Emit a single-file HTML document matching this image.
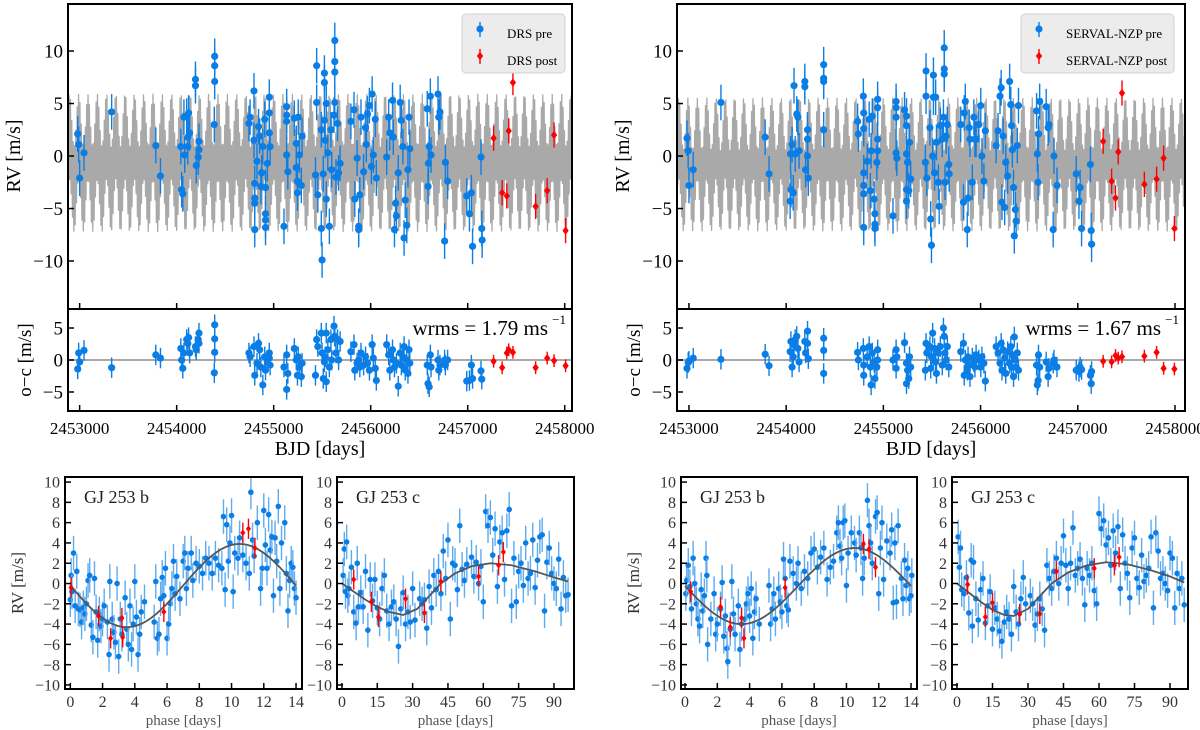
<!DOCTYPE html>
<html><head><meta charset="utf-8">
<style>
html,body{margin:0;padding:0;background:#fff;}
svg{display:block;font-family:"Liberation Serif",serif;}
</style></head>
<body>
<svg id="fig" width="1200" height="730" viewBox="0 0 1200 730" xmlns="http://www.w3.org/2000/svg"></svg>
<script>
// ===== DATA (BJD - 2450000, RV in m/s) =====
const drsPreT=[2980,2990,3000,3045,3330,3785,3833,4043,4051,4063,4075,4083,4103,4115,4123,4134,4115,4194,4194,4202,4230,4230,4222,4392,4392,4392,4388,4745,4757,4797,4797,4805,4805,4805,4805,4828,4844,4856,4868,4876,4888,4908,4916,4916,4916,4916,4935,4955,4955,4955,4963,5106,5134,5134,5134,5134,5146,5213,5233,5233,5245,5245,5253,5265,5285,5293,5443,5443,5431,5455,5491,5491,5499,5511,5523,5523,5523,5531,5542,5542,5558,5574,5590,5598,5622,5630,5630,5630,5630,5642,5658,5669,5685,5796,5828,5836,5860,5876,5876,5888,5900,5927,5947,5955,5967,5987,6007,6015,6027,6047,6058,6165,6185,6197,6225,6233,6245,6257,6265,6284,6304,6316,6332,6344,6356,6372,6384,6395,6403,6583,6591,6595,6603,6615,6622,6694,6702,6714,6762,6770,6793,6990,7018,7038,7050,7137,7145,7149];
const drsPreRV=[2.1,1.1,-2.1,0.3,4.2,1.0,-1.9,0.9,-3.2,-3.6,3.7,0.1,3.8,1.8,4.1,2.2,0.9,7.3,6.7,-0.9,1.4,0.6,-0.1,9.5,8.6,7.1,3.0,3.1,3.7,6.2,1.5,-2.6,-4.0,-4.5,-7.0,-0.5,2.8,1.9,-2.9,-1.6,0.9,3.5,-3.0,-5.5,-6.1,-6.8,-0.7,5.6,4.1,2.2,0.9,-6.7,4.7,3.9,3.3,0.1,-1.5,3.6,1.2,-1.1,-2.4,-3.5,3.7,0.1,-2.8,1.9,8.6,5.1,-1.8,-3.7,2.5,-6.9,-9.9,-1.7,7.0,7.9,3.4,1.5,5.0,-4.1,0.3,-6.7,2.5,-1.3,3.9,11.0,9.0,8.0,5.1,-2.0,3.1,-1.6,-0.7,3.3,4.4,-4.1,-0.2,-6.7,-7.0,-3.7,3.7,-1.5,2.7,1.1,4.0,4.8,-1.0,5.9,0.1,3.5,-2.1,-0.1,3.7,2.2,5.3,1.8,-7.0,-4.5,-5.7,-1.6,5.1,3.4,0.9,-7.8,-4.2,-6.6,-1.3,3.7,0.7,4.5,-2.9,-0.7,0.9,5.7,0.1,5.9,3.7,4.2,-8.1,-0.6,-2.4,-3.8,-5.5,-3.5,-8.6,-0.1,-6.9,-8.0];
const drsPostT=[7267,7355,7403,7423,7466,7700,7819,7890,8009];
const drsPostRV=[1.7,-3.5,-3.8,2.4,7.0,-4.8,-3.3,2.0,-7.1];
const drsResPreT=[2980,2990,3000,3045,3330,3785,3833,4043,4051,4063,4075,4103,4115,4123,4134,4194,4222,4230,4202,4230,4392,4392,4392,4388,4745,4757,4797,4805,4828,4844,4856,4868,4888,4908,4916,4935,4955,4963,4955,5106,5134,5134,5146,5213,5233,5245,5253,5265,5285,5293,5443,5431,5455,5491,5499,5511,5523,5531,5542,5542,5558,5574,5590,5598,5622,5630,5642,5658,5669,5685,5796,5828,5836,5860,5876,5888,5900,5927,5947,5967,5987,6015,6027,6047,6058,6165,6185,6197,6225,6233,6245,6265,6284,6304,6316,6332,6344,6356,6372,6384,6395,6403,6583,6591,6603,6615,6622,6694,6702,6714,6762,6770,6793,6990,7018,7038,7050,7137,7145];
const drsResPre=[-1.4,1.1,-0.3,1.5,-1.2,0.8,0.3,1.8,0,-1.3,1.1,3.2,2.6,3.5,1.1,2.1,3.2,4.2,1.6,2.6,5.5,3.3,1.2,-2.0,1.1,0.5,2.1,-2.4,-0.5,2.6,1.6,-1.1,-3.9,0.5,-1.6,-0.3,1.1,-0.8,0.3,-1.1,0.8,-4.6,-2.1,1.8,0,-2.4,0.5,-1.1,-2.6,-0.5,3.2,-2.4,2.1,4.2,1.1,-2.9,-0.3,0.5,4.2,-3.4,1.6,-1.1,3.2,0,5.3,3.7,1.1,3.2,0,2.9,1.3,2.4,-1.6,-0.5,0,-1.1,1.1,-0.8,0.5,-0.5,-1.6,2.4,0.3,-1.3,-3.2,2.4,0.8,-1.6,1.6,0,-1.1,-0.5,-4.1,1.1,-0.8,0.5,2.1,-1.6,0,-2.1,1.6,-0.5,-0.8,-3.7,-4.2,0.8,-1.1,0,-1.6,-0.8,0,-0.8,0,-3.3,-3.2,-0.8,-2.9,-1.7,-3.0];
const drsResPost=[-0.2,-1.2,1.1,1.6,1.2,-1.2,0.3,-0.1,-0.9];

const srvPreT=[2980,2992,3000,3044,3329,3784,3824,4041,4045,4049,4061,4073,4081,4093,4109,4121,4133,4192,4192,4200,4220,4220,4220,4228,4386,4386,4386,4386,4735,4743,4794,4798,4798,4798,4798,4798,4798,4834,4854,4866,4874,4886,4905,4913,4913,4913,4933,4941,4941,4941,4941,5099,5131,5131,5131,5131,5139,5218,5238,5238,5238,5238,5238,5249,5261,5269,5281,5439,5439,5432,5447,5479,5487,5495,5507,5515,5515,5527,5538,5546,5566,5574,5586,5606,5618,5626,5626,5626,5634,5646,5658,5673,5677,5796,5824,5832,5843,5863,5871,5883,5891,5915,5931,5942,5954,5982,6002,6014,6034,6049,6160,6180,6200,6212,6220,6232,6248,6259,6279,6299,6311,6319,6327,6339,6347,6358,6366,6378,6390,6576,6584,6592,6596,6608,6675,6695,6703,6747,6755,6786,6984,7012,7024,7039,7130,7138,7142];
const srvPreRV=[1.7,0.5,-2.8,-1.3,5.1,1.8,-1.7,-4.3,0.2,-3.2,1.1,-3.5,6.7,0.2,4.0,3.7,0.5,7.1,6.6,-1.3,2.5,1.6,0,-2.1,8.7,7.4,7.1,2.5,3.3,2.1,5.7,4.1,2.6,-1.6,-2.8,-3.6,-6.8,-0.5,3.5,-3.3,0.5,3.8,-4.1,-5.5,-6.5,-6.9,-0.6,5.4,4.6,1.6,0.5,-5.7,5.2,4.6,3.7,0.3,-0.2,4.4,3.8,2.9,0.2,-3.2,-4.3,-0.6,-3.3,1.3,-2.2,8.1,5.7,-0.6,-2.1,2.7,-6.0,-8.5,0,7.7,5.6,-1.6,5.6,1.3,-2.5,-4.8,2.9,1.6,3.7,10.3,8.3,7.8,-2.5,1.9,3.0,-0.8,-1.7,3.0,-4.4,4.1,5.2,-7.0,-4.0,2.7,1.6,-2.5,3.7,1.6,1.6,3.0,4.8,0,-2.4,2.4,1.0,2.4,5.7,6.5,-4.4,1.9,-4.9,-0.6,-1.9,7.1,4.9,2.9,0.6,-3.0,-7.6,-5.1,-6.2,1.0,4.8,4.3,0.2,-2.5,2.1,5.2,4.7,2.7,3.0,-7.0,0,-2.8,-1.7,-4.3,-3.0,-6.9,-0.8,-7.1,-8.4];
const srvPostT=[7261,7348,7388,7416,7455,7685,7811,7883,7994];
const srvPostRV=[1.4,-2.4,-4.0,0.4,6.0,-2.7,-2.2,-0.2,-6.9];
const srvResPreT=[2980,2992,3000,3044,3329,3784,3824,4041,4049,4061,4073,4081,4093,4109,4121,4133,4192,4200,4220,4220,4228,4386,4386,4386,4735,4743,4794,4798,4798,4834,4854,4866,4874,4886,4905,4913,4933,4941,4941,5099,5131,5131,5139,5218,5238,5238,5249,5261,5269,5281,5439,5432,5447,5479,5487,5495,5507,5515,5527,5538,5546,5566,5586,5606,5618,5626,5634,5646,5658,5673,5796,5824,5832,5843,5863,5871,5883,5891,5915,5931,5942,5954,5982,6002,6014,6034,6049,6160,6180,6200,6212,6220,6232,6248,6259,6279,6299,6311,6319,6327,6339,6347,6358,6366,6378,6390,6576,6584,6592,6596,6608,6675,6695,6703,6747,6755,6786,6984,7012,7024,7039,7130,7138,7142];
const srvResPre=[-1.3,-0.4,-0.2,0.3,0.1,0.9,-0.9,1.3,2.9,-1.1,0.5,2.4,3.2,3.7,1.8,-0.3,2.9,1.1,4.5,2.6,0.2,3.4,1.5,-2.1,1.2,0,1.8,-0.8,-2.4,0.5,2.1,-1.1,-3.9,1.1,-0.3,-2.9,-1.1,0,1.6,0,1.6,-1.3,0.5,2.7,-0.5,-3.7,-1.6,-2.9,0.5,-1.1,2.6,-1.6,1.1,2.1,-1.3,0.5,4.2,0,1.8,-0.3,-2.1,1.1,2.1,-0.8,5.0,3.7,1.1,0,2.1,-1.1,1.3,2.6,-2.4,0,-1.6,0.5,-0.8,-2.6,0.3,-0.3,-1.1,0.8,0,-1.1,0.5,-0.5,-3.3,2.1,1.1,-0.5,2.6,-1.6,1.6,0.3,-2.1,1.3,-0.5,2.1,-1.1,0.8,-2.6,3.6,0,-1.1,1.1,-1.6,-0.8,-3.9,-3.2,0.8,-1.1,-0.3,-2.6,-1.3,-0.5,0,-1.1,-1.6,-1.8,-1.1,-1.5,-2.4,-3.7,-1.8];
const srvResPost=[-0.2,-0.3,0.7,0.3,0.5,0.6,1.2,-1.3,-1.4];

// phase-folded data: [phase, rv]
const drsBPre=[[0.0,-1.6],[0.05,0.8],[0.1,-0.8],[0.2,3.0],[0.3,-2.2],[0.4,1.2],[0.5,-2.5],[0.6,-2.6],[0.7,-3.8],[0.8,-2.4],[0.9,-3.0],[1.0,-2.0],[1.1,0.3],[1.2,0.8],[1.3,-4.1],[1.4,-5.3],[1.5,0.5],[1.6,-2.8],[1.7,-5.6],[1.8,-3.0],[1.9,-4.2],[2.0,-3.5],[2.1,-2.2],[2.3,-3.8],[2.4,-7.0],[2.45,0.2],[2.6,-3.5],[2.7,-4.8],[2.8,-5.8],[2.9,0.0],[3.0,-7.2],[3.1,-3.5],[3.2,-5.0],[3.4,-1.4],[3.5,-4.5],[3.6,-6.0],[3.7,-2.2],[3.8,-6.5],[3.9,-4.0],[4.0,0.2],[4.1,-3.3],[4.2,-7.0],[4.3,-5.0],[4.4,-2.8],[4.6,-1.8],[5.2,-3.8],[5.3,0.2],[5.4,-5.4],[5.5,-5.0],[5.6,-1.5],[5.7,0.6],[5.8,-1.2],[5.9,1.5],[6.0,-5.4],[6.1,-4.0],[6.2,-2.0],[6.3,-0.5],[6.4,2.2],[6.5,-1.0],[6.6,0.7],[6.8,-1.5],[7.0,2.2],[7.1,3.0],[7.2,-0.5],[7.3,1.5],[7.5,3.0],[7.6,0.3],[7.8,2.0],[8.0,1.7],[8.2,1.0],[8.4,2.5],[8.6,2.0],[8.8,1.0],[9.0,2.5],[9.2,1.8],[9.4,1.5],[9.5,6.6],[9.6,-0.6],[9.7,5.8],[9.8,2.2],[9.9,4.0],[10.0,6.7],[10.1,-0.8],[10.2,3.0],[10.4,2.5],[10.5,4.5],[10.7,2.8],[10.9,2.0],[11.1,1.0],[11.2,9.0],[11.3,4.3],[11.4,2.7],[11.6,6.0],[11.8,-0.5],[11.9,1.5],[12.0,7.2],[12.1,3.8],[12.2,1.5],[12.3,6.8],[12.4,3.3],[12.5,4.6],[12.6,-1.2],[12.7,4.5],[12.8,2.2],[12.9,7.6],[13.0,-0.5],[13.1,4.0],[13.3,6.0],[13.4,1.0],[13.5,-2.7],[13.6,0.3],[13.7,2.0],[13.8,1.6],[13.9,-0.5],[14.0,-1.4]];
const drsBPost=[[0.05,-0.4],[1.75,-3.2],[2.5,-5.4],[3.2,-3.4],[3.25,-5.3],[5.8,-2.8],[10.7,5.0],[11.05,5.4],[11.45,3.5]];
const drsCPre=[[0.5,0.8],[1,3.4],[1.5,-0.8],[2,4.1],[2.5,-1.2],[3,-0.5],[4,1.6],[5,-2.8],[6,-3.9],[6.5,2.0],[7,-2.3],[8,-0.9],[9,-2.3],[10,1.2],[11,-4.6],[12,0.4],[13,-1.7],[14,0.4],[15,-2.4],[16,-3.5],[17,-0.5],[18,0.8],[19,-2.7],[20,-4.0],[21,-2.3],[22,-1.8],[23,-3.5],[24,-6.2],[25,-2.5],[26,-0.9],[27,-4.0],[28,-2.8],[29,-3.8],[30,-0.5],[31,-3.6],[33,-1.5],[34,-2.0],[35,-1.6],[36,-4.4],[37,-0.3],[38,-2.4],[39,0.8],[40,-0.6],[41,1.2],[42,-1.0],[43,3.2],[44,0.5],[45,4.3],[46,-3.5],[47,2.0],[48,1.8],[49,-0.6],[50,5.7],[51,1.4],[52,0.3],[53,1.9],[55,2.6],[56,0.7],[57,2.1],[58,0.0],[59,1.7],[60,-1.8],[61,7.1],[62,5.7],[63,6.5],[64,2.8],[65,5.4],[66,-0.3],[67,4.1],[68,5.0],[69,0.4],[70,5.2],[71,7.3],[72,-2.2],[73,2.5],[74,-1.8],[75,1.2],[76,2.0],[77,-0.2],[78,4.0],[79,0.5],[80,1.0],[81,4.3],[82,-0.4],[83,2.3],[84,4.6],[85,4.8],[86,-2.7],[87,2.1],[88,3.5],[89,1.0],[90,0.0],[91,-0.5],[92,2.4],[93,-2.5],[94,0.6],[95,-1.2],[96,-1.1]];
const drsCPost=[[5,0.4],[12.5,-1.8],[15.5,-3.3],[27,-1.5],[35,-2.9],[42,0.2],[58,0.7],[66.5,1.8],[68.5,3.1]];
const srvBPre=[[0.05,-1.0],[0.1,0.3],[0.2,1.8],[0.3,-0.3],[0.4,-2.5],[0.5,2.5],[0.6,0.0],[0.7,-2.0],[0.8,-3.5],[0.9,-4.2],[1.0,-0.6],[1.1,-2.7],[1.2,-1.2],[1.3,2.5],[1.35,0.8],[1.4,-6.0],[1.6,-3.5],[1.8,-1.0],[1.9,-5.0],[2.0,-4.0],[2.2,-2.5],[2.3,0.1],[2.4,-5.2],[2.5,-3.2],[2.6,-6.4],[2.65,-7.7],[2.8,-4.5],[2.9,0.2],[3.0,-3.0],[3.1,-5.0],[3.3,-2.2],[3.4,-6.5],[3.5,-4.0],[3.7,-3.5],[3.8,-2.0],[3.9,-1.0],[4.0,-3.2],[4.1,-0.5],[4.2,-5.4],[4.3,-2.8],[4.4,-1.5],[4.6,-4.0],[5.2,-0.2],[5.3,-4.0],[5.4,-2.5],[5.5,-1.0],[5.6,-3.5],[5.8,-0.5],[5.9,-1.8],[6.0,-2.8],[6.1,2.4],[6.2,0.5],[6.3,-2.2],[6.4,-2.6],[6.5,2.2],[6.7,1.0],[6.9,0.0],[7.0,2.0],[7.2,-0.5],[7.4,1.2],[7.6,0.5],[7.8,3.0],[8.0,3.4],[8.2,1.6],[8.4,2.6],[8.6,3.5],[8.8,0.4],[9.0,1.6],[9.2,2.2],[9.4,5.0],[9.5,6.0],[9.6,3.7],[9.7,2.5],[9.8,6.0],[9.9,6.2],[10.0,-0.2],[10.1,3.0],[10.3,5.0],[10.5,4.0],[10.6,2.8],[10.8,5.0],[10.9,3.5],[11.0,0.5],[11.1,2.5],[11.3,8.2],[11.4,5.7],[11.5,4.0],[11.6,2.0],[11.8,6.6],[11.9,7.0],[12.0,-1.0],[12.1,3.5],[12.2,6.0],[12.3,0.4],[12.5,4.2],[12.7,3.0],[12.8,5.3],[12.9,-1.9],[13.0,4.0],[13.1,-1.8],[13.2,5.7],[13.4,0.5],[13.5,-1.5],[13.6,2.3],[13.7,-0.2],[13.8,1.5],[13.9,-1.5],[14.0,-1.2],[14.05,0.8]];
const srvBPost=[[0.35,-0.8],[2.2,-2.3],[2.8,-4.3],[3.5,-3.4],[3.65,-5.4],[6.2,-0.4],[11.05,3.9],[11.4,3.4],[11.8,1.6]];
const srvCPre=[[0.5,4.6],[1,1.6],[1.5,3.5],[2,-0.6],[3,-1.0],[4,0.6],[5,-2.9],[6,2.3],[6.5,-4.2],[7,2.1],[8,-1.5],[9,-3.6],[10,-0.6],[11,0.5],[12,-3.9],[13,-2.2],[14,-0.8],[15,-4.5],[16,-2.4],[17,-3.5],[18,-4.7],[19,-5.7],[20,-3.8],[21,-2.8],[22,-3.5],[23,-5.0],[24,-0.3],[25,-2.8],[26,-4.0],[27,-1.5],[28,0.6],[29,-2.0],[31,-1.2],[32,-2.0],[33,-4.1],[34,-3.0],[35,-1.5],[36,-2.5],[37,-4.6],[38,1.8],[39,0.5],[40,-0.5],[41,1.2],[42,2.5],[43,0.0],[44,2.0],[45,4.7],[46,1.8],[47,-0.5],[48,2.0],[49,5.5],[50,0.8],[51,1.5],[52,2.4],[53,0.5],[54,-2.1],[55,1.5],[56,0.8],[57,2.0],[58,-0.7],[59,-2.0],[60,6.9],[61,5.4],[62,6.2],[63,3.8],[64,4.5],[65,1.8],[66,5.2],[67,3.0],[68,5.6],[69,-0.5],[70,4.8],[71,2.0],[72,1.0],[73,-1.4],[74,3.5],[75,4.5],[76,0.5],[77,-0.4],[78,2.8],[79,0.2],[80,0.8],[81,1.5],[82,4.6],[83,-2.4],[84,5.0],[85,3.2],[86,0.5],[87,1.0],[88,0.0],[89,-0.7],[90,3.0],[91,2.5],[92,-2.4],[93,1.0],[94,-0.5],[95,0.5],[96,-2.1]];
const srvCPost=[[4.5,-0.1],[12,-3.3],[15,-1.9],[26.5,-3.0],[35,-3.0],[42,1.2],[58,1.5],[66.5,1.8],[68.5,2.6]];

// model curves for phase panels: [phase, rv]
const drsCModel=[[0,0],[5,-0.8],[10,-1.6],[15,-2.3],[20,-2.8],[26,-3.1],[32,-2.5],[38,-1.0],[42,0],[48,1.0],[55,1.7],[63,2.0],[72,1.8],[82,1.2],[90,0.6],[96,0.2]];
const srvCModel=[[0,0],[5,-0.9],[10,-1.8],[15,-2.6],[20,-3.1],[24,-3.2],[30,-2.5],[36,-1.0],[40,0],[47,1.1],[55,1.8],[63,2.1],[72,1.9],[82,1.3],[90,0.7],[96,0.1]];
const bModelParams={drs:{amp:4.1,off:-0.2},srv:{amp:3.75,off:-0.25}};
const rvModelParams={drs:{kb:4.1,kc:2.5,off:-0.65},srv:{kb:3.9,kc:2.5,off:-0.8}};

const xTicksBJD=[3000,4000,5000,6000,7000,8000];
const xTickLabelsBJD=["2453000","2454000","2455000","2456000","2457000","2458000"];
const yTicksRV=[-10,-5,0,5,10];
const yTicksRes=[-5,0,5];
const yTicksPhase=[-10,-8,-6,-4,-2,0,2,4,6,8,10];
const xTicksB=[0,2,4,6,8,10,12,14];
const xTicksC=[0,15,30,45,60,75,90];

// ===== DRAWING =====
const NS="http://www.w3.org/2000/svg";
const svg=document.getElementById('fig');
const BLUE='#0b7ee6', LBLUE='#5fabef', RED='#ff0000', GRAY='#a9a9a9';
let clipN=0;
function mk(tag,attrs,parent){const e=document.createElementNS(NS,tag);for(const k in attrs)e.setAttribute(k,attrs[k]);(parent||svg).appendChild(e);return e;}
function lin(d0,d1,r0,r1){return v=>r0+(v-d0)*(r1-r0)/(d1-d0);}
function fmt(v){return v<0?'\u2212'+Math.abs(v):String(v);}
function txt(s,attrs,parent,name){const t=mk('text',attrs,parent);t.textContent=s;
  
  
  return t;}
function clip(x0,y0,x1,y1){const id='c'+(clipN++);const cp=mk('clipPath',{id:id});mk('rect',{x:x0,y:y0,width:x1-x0,height:y1-y0},cp);return 'url(#'+id+')';}
function frame(g,x0,y0,x1,y1,name){const r=mk('rect',{x:x0,y:y0,width:x1-x0,height:y1-y0,fill:'none',stroke:'#000','stroke-width':2},g);
  
  }
function yTicks(g,ticks,sy,x0,x1,fs,lab,color){ticks.forEach(v=>{const y=sy(v);mk('line',{x1:x0,x2:x0+6,y1:y,y2:y,stroke:'#000','stroke-width':1.5},g);
  if(lab)txt(fmt(v),{x:x0-5,y:y+fs*0.35,'font-size':fs,'text-anchor':'end',fill:color||'#000'},g,'y-tick-label');});}
function xTicks(g,ticks,labels,sx,y1,fs,lab,ly,color){ticks.forEach((v,i)=>{const x=sx(v);mk('line',{x1:x,x2:x,y1:y1,y2:y1-6,stroke:'#000','stroke-width':1.5},g);
  if(lab)txt(labels[i],{x:x,y:ly,'font-size':fs,'text-anchor':'middle',fill:color||'#000'},g,'x-tick-label');});}
function circ(g,x,y,yl,yh,r,col,ecol,name){mk('line',{x1:x,x2:x,y1:yl,y2:yh,stroke:ecol,'stroke-width':1.4},g);
  const c=mk('circle',{cx:x,cy:y,r:r,fill:col},g);
  
  }
function diam(g,x,y,yl,yh,r,name){mk('line',{x1:x,x2:x,y1:yl,y2:yh,stroke:RED,'stroke-width':1.4},g);
  const p=mk('path',{d:`M${x} ${y-r}L${x+r*0.75} ${y}L${x} ${y+r}L${x-r*0.75} ${y}Z`,fill:RED},g);
  
  }

function topPanel(cfg){
  const g=mk('g',{});
  
  
  const sx=lin(cfg.xd[0],cfg.xd[1],cfg.x0,cfg.x1);
  const sy=lin(-14.57,14.48,309,4);
  const sr=lin(-7.97,7.97,411,309);
  const mp=cfg.model; let d='';
  for(let t=cfg.xd[0];t<=cfg.xd[1];t+=1.0){const v=mp.off+mp.kb*Math.sin(2*Math.PI*t/13.95)+mp.kc*Math.sin(2*Math.PI*t/95.7);d+=(d?'L':'M')+sx(t).toFixed(2)+' '+sy(v).toFixed(2);}
  const m=mk('path',{d:d,fill:'none',stroke:GRAY,'stroke-width':1.2,'clip-path':clip(cfg.x0,4,cfg.x1,309)},g);
  
  
  const err=1.7;
  cfg.preT.forEach((t,i)=>{const v=cfg.preRV[i];circ(g,sx(t),sy(v),sy(v-err),sy(v+err),3.6,BLUE,BLUE,'pre-point');});
  cfg.postT.forEach((t,i)=>{const v=cfg.postRV[i];diam(g,sx(t),sy(v),sy(v-1.2),sy(v+1.2),4.2,'post-point');});
  frame(g,cfg.x0,4,cfg.x1,309,'rv-axes-frame');
  yTicks(g,yTicksRV,sy,cfg.x0,cfg.x1,19,true);
  xTicks(g,xTicksBJD,xTickLabelsBJD,sx,309,17,false);
  txt('RV [m/s]',{x:0,y:0,'font-size':20,'text-anchor':'middle',transform:`translate(${cfg.x0-48},156) rotate(-90)`},g,'rv-y-axis-title');
  const lg=mk('g',{},g);
  
  
  mk('rect',{x:cfg.lx0,y:14,width:cfg.lx1-cfg.lx0,height:59,rx:4,fill:'#ececec',stroke:'#d2d2d2','stroke-width':1},lg);
  circ(lg,cfg.lx0+18,29,22,37,3.6,BLUE,BLUE,'legend-pre-marker');
  diam(lg,cfg.lx0+18,56,49,64,4.2,'legend-post-marker');
  txt(cfg.lab+' pre',{x:cfg.lx0+45,y:38,'font-size':13},lg,'legend-entry-pre');
  txt(cfg.lab+' post',{x:cfg.lx0+45,y:65,'font-size':13},lg,'legend-entry-post');
  mk('line',{x1:cfg.x0,x2:cfg.x1,y1:sr(0),y2:sr(0),stroke:GRAY,'stroke-width':2},g);
  cfg.resT.forEach((t,i)=>{const v=cfg.res[i];circ(g,sx(t),sr(v),sr(v-1.6),sr(v+1.6),3.6,BLUE,BLUE,'residual-pre-point');});
  cfg.postT.forEach((t,i)=>{const v=cfg.resPost[i];diam(g,sx(t),sr(v),sr(v-1.0),sr(v+1.0),4.2,'residual-post-point');});
  frame(g,cfg.x0,309,cfg.x1,411,'residual-axes-frame');
  yTicks(g,yTicksRes,sr,cfg.x0,cfg.x1,19,true);
  xTicks(g,xTicksBJD,xTickLabelsBJD,sx,411,17,true,434);
  txt('o\u2212c [m/s]',{x:0,y:0,'font-size':19,'text-anchor':'middle',transform:`translate(${cfg.x0-37},360) rotate(-90)`},g,'residual-y-axis-title');
  txt('wrms = '+cfg.wrms+' ms',{x:cfg.x1-24,y:335,'font-size':21,'text-anchor':'end'},g,'wrms-label');
  txt('\u22121',{x:cfg.x1-6,y:324,'font-size':13,'text-anchor':'end'},g,'wrms-exponent');
  txt('BJD [days]',{x:(cfg.x0+cfg.x1)/2,y:455,'font-size':20,'text-anchor':'middle'},g,'x-axis-title');
}

function phasePanel(cfg){
  const g=mk('g',{});
  
  
  const sx=lin(cfg.xd[0],cfg.xd[1],cfg.x0,cfg.x1);
  const sy=lin(-10.4,10.5,689,477);
  const cp=clip(cfg.x0,477,cfg.x1,689);
  const eg=mk('g',{'clip-path':cp},g);
  cfg.pre.forEach(p=>{circ(eg,sx(p[0]),sy(p[1]),sy(p[1]-1.7),sy(p[1]+1.7),2.8,BLUE,LBLUE,'phase-pre-point');});
  let d='';
  if(cfg.bmodel){const bm=cfg.bmodel;for(let p=0;p<=14.05;p+=0.1){const v=bm.off+bm.amp*Math.sin(2*Math.PI*(p-7.0)/14);d+=(d?'L':'M')+sx(p).toFixed(2)+' '+sy(v).toFixed(2);}}
  else{cfg.cmodel.forEach(q=>{d+=(d?'L':'M')+sx(q[0]).toFixed(2)+' '+sy(q[1]).toFixed(2);});}
  const m=mk('path',{d:d,fill:'none',stroke:'#555','stroke-width':1.8,'stroke-linejoin':'round'},eg);
  
  
  cfg.post.forEach(p=>{diam(eg,sx(p[0]),sy(p[1]),sy(p[1]-1.0),sy(p[1]+1.0),3.4,'phase-post-point');});
  frame(g,cfg.x0,477,cfg.x1,689,'phase-axes-frame');
  yTicks(g,yTicksPhase,sy,cfg.x0,cfg.x1,16,true,'#333');
  xTicks(g,cfg.xt,cfg.xt.map(String),sx,689,16,true,707,'#333');
  txt('phase [days]',{x:(cfg.x0+cfg.x1)/2,y:725,'font-size':15,'text-anchor':'middle',fill:'#555'},g,'phase-x-axis-title');
  txt(cfg.title,{x:cfg.x0+19,y:503,'font-size':18,fill:'#222'},g,'planet-label');
  if(cfg.ylab)txt('RV [m/s]',{x:0,y:0,'font-size':17,'text-anchor':'middle',fill:'#333',transform:`translate(${cfg.x0-42},583) rotate(-90)`},g,'phase-y-axis-title');
}

topPanel({name:'drs-rv-panel',x0:68,x1:572,xd:[2880,8075],model:rvModelParams.drs,preT:drsPreT,preRV:drsPreRV,postT:drsPostT,postRV:drsPostRV,resT:drsResPreT,res:drsResPre,resPost:drsResPost,lab:'DRS',lx0:462,lx1:565,wrms:'1.79'});
topPanel({name:'serval-rv-panel',x0:677,x1:1185,xd:[2877,8103],model:rvModelParams.srv,preT:srvPreT,preRV:srvPreRV,postT:srvPostT,postRV:srvPostRV,resT:srvResPreT,res:srvResPre,resPost:srvResPost,lab:'SERVAL-NZP',lx0:1021,lx1:1174,wrms:'1.67'});
phasePanel({name:'drs-phase-b',x0:65,x1:302,xd:[-0.33,14.37],pre:drsBPre,post:drsBPost,bmodel:bModelParams.drs,xt:xTicksB,title:'GJ 253 b',ylab:true});
phasePanel({name:'drs-phase-c',x0:337,x1:574,xd:[-2.1,98.5],pre:drsCPre,post:drsCPost,cmodel:drsCModel,xt:xTicksC,title:'GJ 253 c',ylab:false});
phasePanel({name:'serval-phase-b',x0:681,x1:917,xd:[-0.25,14.37],pre:srvBPre,post:srvBPost,bmodel:bModelParams.srv,xt:xTicksB,title:'GJ 253 b',ylab:true});
phasePanel({name:'serval-phase-c',x0:952,x1:1188,xd:[-2.1,97.6],pre:srvCPre,post:srvCPost,cmodel:srvCModel,xt:xTicksC,title:'GJ 253 c',ylab:false});
</script>
</body></html>
